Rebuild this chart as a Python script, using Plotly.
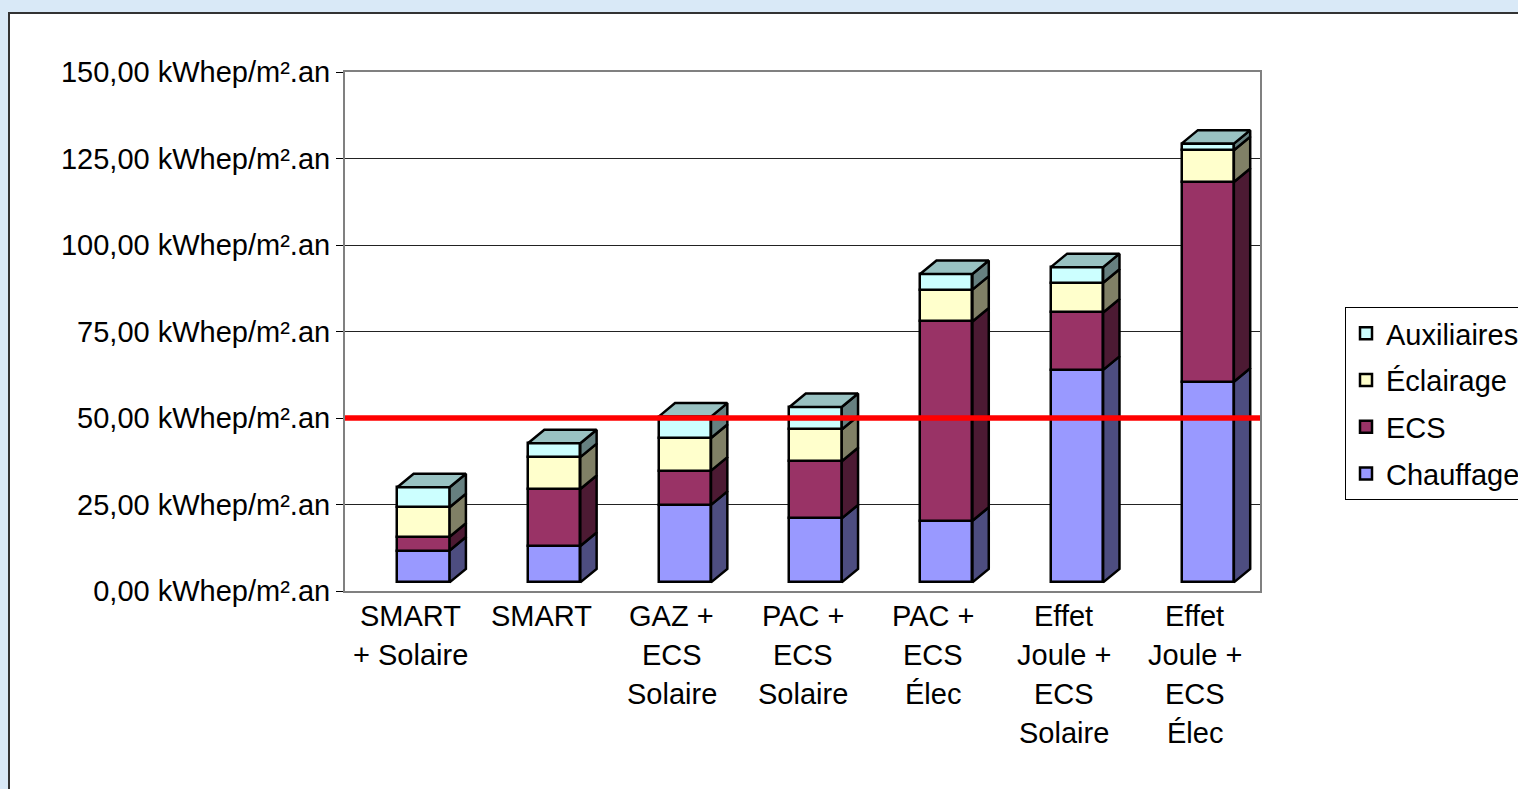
import plotly.graph_objects as go

# ---------------- data ----------------
categories = [
    "SMART\n+ Solaire",
    "SMART",
    "GAZ +\nECS\nSolaire",
    "PAC +\nECS\nSolaire",
    "PAC +\nECS\nÉlec",
    "Effet\nJoule +\nECS\nSolaire",
    "Effet\nJoule +\nECS\nÉlec",
]
chauffage = [9.2, 10.5, 22.4, 18.5, 17.8, 61.4, 58.0]
ecs = [4.0, 16.5, 9.9, 16.5, 57.6, 16.6, 57.7]
eclairage = [8.5, 9.2, 9.4, 9.2, 9.2, 8.6, 9.2]
auxiliaires = [5.8, 4.0, 6.2, 6.5, 4.5, 4.5, 1.9]
series_names = ["Chauffage", "ECS", "Éclairage", "Auxiliaires"]
threshold = 50
y_tickvals = [0, 25, 50, 75, 100, 125, 150]
y_ticktext = ["0,00 kWhep/m².an", "25,00 kWhep/m².an", "50,00 kWhep/m².an",
              "75,00 kWhep/m².an", "100,00 kWhep/m².an", "125,00 kWhep/m².an",
              "150,00 kWhep/m².an"]

# ---------------- style ----------------
front_colors = ["#9999FF", "#993366", "#FFFFCC", "#CCFFFF"]
side_colors = ["#4D4D80", "#4C1A33", "#808066", "#668080"]
top_color = "#99C2C2"
FONT = "Liberation Sans, Arial, sans-serif"
FS = 29
bar_w = 0.4
shift = 0.1      # front face offset from category centre (3D look)
dx = 0.125       # depth, x (category units)
dy = 3.9         # depth, y (value units)
floor = 2.5      # front face sits above the back-wall baseline

series = [chauffage, ecs, eclairage, auxiliaires]
n = len(categories)
xs = [i + shift for i in range(n)]

fig = go.Figure()

cum = [floor] * n
for s, (vals, name) in enumerate(zip(series, series_names)):
    base = cum[:]
    fig.add_trace(go.Bar(
        x=xs, y=vals, base=base, width=bar_w, name=name,
        marker=dict(color=front_colors[s], line=dict(color="black", width=2.5)),
        legendgroup=name, legendrank=len(series) - s, hoverinfo="skip",
    ))
    # side faces
    px, py = [], []
    for i in range(n):
        xr = xs[i] + bar_w / 2
        b = base[i]
        t = base[i] + vals[i]
        px += [xr, xr + dx, xr + dx, xr, xr, None]
        py += [b, b + dy, t + dy, t, b, None]
    fig.add_trace(go.Scatter(
        x=px, y=py, mode="lines", fill="toself", fillcolor=side_colors[s],
        line=dict(color="black", width=2.5), showlegend=False, hoverinfo="skip",
    ))
    cum = [c + v for c, v in zip(cum, vals)]

# top faces
px, py = [], []
for i in range(n):
    xl = xs[i] - bar_w / 2
    xr = xs[i] + bar_w / 2
    T = cum[i]
    px += [xl, xl + dx, xr + dx, xr, xl, None]
    py += [T, T + dy, T + dy, T, T, None]
fig.add_trace(go.Scatter(
    x=px, y=py, mode="lines", fill="toself", fillcolor=top_color,
    line=dict(color="black", width=2.5), showlegend=False, hoverinfo="skip",
))

# threshold line
fig.add_trace(go.Scatter(
    x=[-0.5, n - 0.5], y=[threshold, threshold], mode="lines",
    line=dict(color="#FF0000", width=5.5), showlegend=False, hoverinfo="skip",
    cliponaxis=False,
))

# category labels (multi-line, Excel spacing)
annotations = []
for i, cat in enumerate(categories):
    for k, line in enumerate(cat.split("\n")):
        annotations.append(dict(
            x=i, y=0, xref="x", yref="y", text=line, showarrow=False,
            xanchor="center", yanchor="middle", yshift=-(25 + 39 * k),
            font=dict(family=FONT, size=FS, color="black"),
        ))

L, R, T_, B = 345, 1260, 72, 591
W, H = 1518, 789
pw, ph = R - L, B - T_

def px2x(p):
    return (p - L) / pw

def px2y(p):
    return (B - p) / ph

fig.update_layout(
    width=W, height=H,
    margin=dict(l=L, r=W - R, t=T_, b=H - B, pad=0, autoexpand=False),
    paper_bgcolor="#D9E9F7",
    plot_bgcolor="#C0C0C0",
    barmode="overlay",
    bargap=0,
    font=dict(family=FONT, size=FS, color="black"),
    showlegend=True,
    legend=dict(
        xref="container", yref="container",
        x=1345 / W, y=1 - 307 / H, xanchor="left", yanchor="top",
        bgcolor="white", bordercolor="black", borderwidth=1,
        font=dict(family=FONT, size=FS, color="black"),
        traceorder="grouped", tracegroupgap=6, itemwidth=30,
    ),
    xaxis=dict(
        range=[-0.5, n - 0.5], showticklabels=False, showgrid=False,
        zeroline=False, ticks="", showline=True, linecolor="#808080",
        linewidth=2, mirror=True, fixedrange=True,
    ),
    yaxis=dict(
        range=[0, 150], tickvals=y_tickvals, ticktext=y_ticktext,
        showgrid=True, gridcolor="#222222", gridwidth=1, zeroline=False,
        ticks="outside", ticklen=7, tickcolor="black", tickwidth=1,
        showline=True, linecolor="#808080", linewidth=2, mirror=True,
        tickfont=dict(family=FONT, size=FS, color="black"), fixedrange=True,
    ),
    annotations=annotations,
    shapes=[dict(
        type="rect", xref="paper", yref="paper", layer="below",
        x0=px2x(9), x1=px2x(1600), y0=px2y(900), y1=px2y(13),
        fillcolor="white", line=dict(color="#333333", width=2),
    )],
)

fig.write_html("out.html")
